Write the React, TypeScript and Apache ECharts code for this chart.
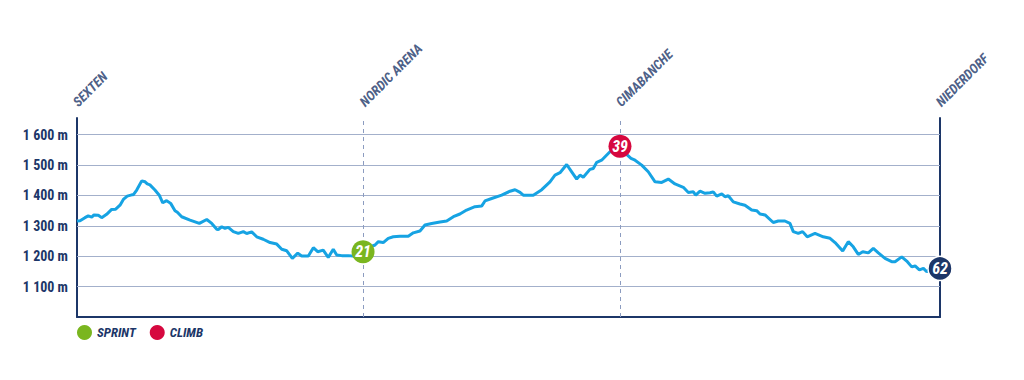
import React, { useEffect, useRef } from "react";
import * as echarts from "echarts";

// Elevation profile: distance (km) and elevation (m)
const profileKm: number[] = [
  0, 0.22, 0.57, 0.81, 1.06, 1.22, 1.53, 1.77, 2.13, 2.49, 2.78, 3.09, 3.33, 3.61, 3.93, 4.04, 4.29, 4.65, 4.89, 5.05,
  5.24, 5.6, 5.91, 6.16, 6.44, 6.73, 7.04, 7.21, 7.52, 8.12, 8.79, 9.32, 9.68, 10.04, 10.15, 10.4, 10.63, 10.87, 11.23, 11.59,
  11.95, 12.19, 12.55, 12.91, 13.38, 13.87, 14.35, 14.71, 15.07, 15.47, 15.86, 16.14, 16.62, 16.98, 17.29, 17.69, 18.05, 18.41, 18.66, 19.02,
  19.49, 19.97, 20.55, 20.9, 21.41, 21.65, 22.0, 22.36, 22.72, 23.2, 23.8, 24.16, 24.64, 25.0, 25.48, 26.08, 26.56, 27.04, 27.51, 27.99,
  28.59, 29.07, 29.31, 29.79, 30.51, 31.11, 31.47, 31.83, 32.06, 32.78, 33.39, 33.98, 34.34, 34.7, 35.18, 35.54, 35.9, 36.14, 36.37, 36.85,
  37.09, 37.34, 37.69, 38.29, 39.01, 39.8, 40.09, 40.57, 41.04, 41.53, 42.01, 42.48, 42.96, 43.56, 43.92, 44.28, 44.45, 44.76, 45.12, 45.48,
  45.71, 45.96, 46.32, 46.55, 46.79, 47.15, 47.63, 47.99, 48.47, 48.83, 49.07, 49.43, 50.02, 50.38, 50.86, 51.22, 51.46, 51.82, 52.13, 52.46,
  53.02, 53.61, 54.1, 54.46, 55.01, 55.41, 55.77, 56.13, 56.45, 56.85, 57.21, 57.57, 58.05, 58.53, 58.77, 59.25, 59.61, 59.97, 60.21, 60.52,
  60.81, 61.05, 61.29, 62,
];
const profileElev: number[] = [
  1316, 1317, 1327, 1333, 1329, 1336, 1335, 1327, 1338, 1354, 1355, 1368, 1387, 1398, 1402, 1402, 1418, 1448, 1445, 1438,
  1435, 1418, 1401, 1376, 1383, 1374, 1350, 1345, 1330, 1319, 1308, 1321, 1308, 1289, 1288, 1297, 1292, 1295, 1281, 1275,
  1281, 1275, 1280, 1264, 1256, 1245, 1240, 1223, 1218, 1193, 1210, 1201, 1201, 1228, 1215, 1220, 1196, 1223, 1204, 1202,
  1202, 1200, 1215, 1228, 1237, 1248, 1245, 1259, 1264, 1266, 1266, 1277, 1283, 1303, 1308, 1313, 1316, 1330, 1339, 1352,
  1363, 1365, 1382, 1390, 1401, 1414, 1419, 1410, 1401, 1401, 1419, 1445, 1467, 1475, 1502, 1478, 1454, 1467, 1460, 1486,
  1489, 1509, 1516, 1544, 1555, 1522, 1516, 1500, 1478, 1445, 1443, 1454, 1438, 1427, 1410, 1412, 1401, 1414, 1407, 1409,
  1412, 1398, 1405, 1396, 1399, 1379, 1372, 1368, 1352, 1350, 1339, 1336, 1311, 1316, 1316, 1308, 1281, 1275, 1281, 1264,
  1275, 1264, 1259, 1245, 1217, 1248, 1231, 1206, 1215, 1211, 1226, 1211, 1193, 1182, 1182, 1198, 1184, 1165, 1168, 1155,
  1160, 1149, 1158, 1160,
];

// Places along the route
const placeNames: string[] = ["SEXTEN", "NORDIC ARENA", "CIMABANCHE", "NIEDERDORF"];
const placeKm: number[] = [0, 20.6, 39.01, 62];

// Points (sprint, climb, finish)
const sprintKm: number[] = [20.55];
const sprintElev: number[] = [1215];
const sprintLabel: string[] = ["21"];
const climbKm: number[] = [39.01];
const climbElev: number[] = [1562];
const climbLabel: string[] = ["39"];
const finishKm: number[] = [62];
const finishElev: number[] = [1160];
const finishLabel: string[] = ["62"];

// Axis
const yTicks: number[] = [1100, 1200, 1300, 1400, 1500, 1600];
const yMin = 1000;
const yMax = 1655;
const xMin = 0;
const xMax = 62;

const NAVY = "#1c3668";
const GRID = "#a3b0cb";
const LINE = "#16a3e3";
const FONT = '"Roboto Condensed", "Open Sans Condensed", "Liberation Sans Narrow", "DejaVu Sans Condensed", sans-serif';

const fmtElev = (v: number) => `${Math.floor(v / 1000)} ${String(v % 1000).padStart(3, "0")} m`;

export default function App() {
  const ref = useRef<HTMLDivElement>(null);
  useEffect(() => {
    if (!ref.current) return;
    const chart = echarts.init(ref.current, undefined, { renderer: "svg" });
    const markerLabel = (labels: string[]) => ({
      show: true,
      position: "inside",
      formatter: (p: any) => labels[p.dataIndex],
      color: "#ffffff",
      fontFamily: FONT,
      fontWeight: "bold",
      fontStyle: "italic",
      fontSize: 16,
    });
    chart.setOption({
      animation: false,
      grid: { left: 77, right: 84, top: 118, bottom: 63 },
      legend: {
        left: 72,
        top: 320,
        icon: "circle",
        itemWidth: 15,
        itemHeight: 15,
        itemGap: 14,
        data: ["SPRINT", "CLIMB"],
        textStyle: { color: NAVY, fontFamily: FONT, fontWeight: "bold", fontStyle: "italic", fontSize: 13 },
      },
      xAxis: {
        type: "value",
        min: xMin,
        max: xMax,
        axisLine: { show: true, lineStyle: { color: NAVY, width: 2 } },
        axisTick: { show: false },
        axisLabel: { show: false },
        splitLine: { show: false },
      },
      yAxis: [
        {
          type: "value",
          min: yMin,
          max: yMax,
          interval: 100,
          axisLine: { show: true, lineStyle: { color: NAVY, width: 2 } },
          axisTick: { show: false },
          splitLine: { show: false },
          axisLabel: {
            margin: 9,
            color: NAVY,
            fontFamily: FONT,
            fontWeight: "bold",
            fontSize: 14,
            formatter: (v: number) => (yTicks.includes(v) ? fmtElev(v) : ""),
          },
        },
        {
          type: "value",
          position: "right",
          min: yMin,
          max: yMax,
          interval: 100,
          axisLine: { show: true, lineStyle: { color: NAVY, width: 2 } },
          axisTick: { show: false },
          axisLabel: { show: false },
          splitLine: { show: false },
        },
      ],
      series: [
        {
          type: "line",
          name: "profile",
          data: profileKm.map((k, i) => [k, profileElev[i]]),
          showSymbol: false,
          symbol: "none",
          lineStyle: { color: LINE, width: 3 },
          z: 3,
          markLine: {
            silent: true,
            symbol: "none",
            label: { show: false },
            data: [
              ...yTicks.map((t) => ({ yAxis: t, lineStyle: { color: GRID, width: 1, type: "solid" } })),
              ...placeKm
                .slice(1, placeKm.length - 1)
                .map((k) => ({ xAxis: k, lineStyle: { color: "#8c9cc0", width: 1, type: [4, 4] } })),
            ],
            z: 1,
          },
        },
        {
          type: "scatter",
          name: "places",
          data: placeKm.map((k) => [k, yMax]),
          symbolSize: 0,
          clip: false,
          silent: true,
          label: {
            show: true,
            formatter: (p: any) => placeNames[p.dataIndex],
            position: [-2, -14],
            rotate: 45,
            align: "left",
            verticalAlign: "middle",
            color: NAVY,
            fontFamily: FONT,
            fontWeight: "bold",
            fontStyle: "italic",
            fontSize: 13.5,
          },
        },
        {
          type: "scatter",
          name: "SPRINT",
          data: sprintKm.map((k, i) => [k, sprintElev[i]]),
          symbolSize: 23,
          itemStyle: { color: "#7ab61f", opacity: 1 },
          label: markerLabel(sprintLabel),
          clip: false,
          z: 5,
        },
        {
          type: "scatter",
          name: "CLIMB",
          data: climbKm.map((k, i) => [k, climbElev[i]]),
          symbolSize: 23,
          itemStyle: { color: "#d6083f", opacity: 1 },
          label: markerLabel(climbLabel),
          clip: false,
          z: 5,
        },
        {
          type: "scatter",
          name: "finish",
          data: finishKm.map((k, i) => [k, finishElev[i]]),
          symbolSize: 24,
          itemStyle: { color: NAVY, borderColor: "#ffffff", borderWidth: 1.5, opacity: 1 },
          label: markerLabel(finishLabel),
          clip: false,
          z: 5,
        },
      ],
    });
    return () => chart.dispose();
  }, []);
  return <div ref={ref} style={{ position: "absolute", left: 0, top: 0, width: 1024, height: 380 }} />;
}
